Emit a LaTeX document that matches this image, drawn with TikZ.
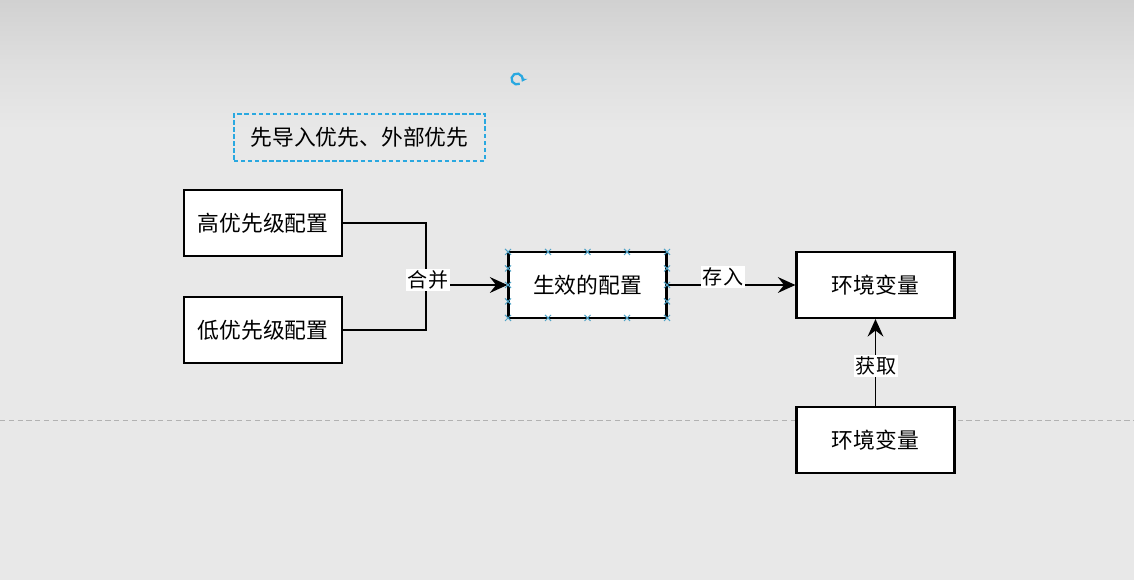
\documentclass[tikz,border=0pt]{standalone}
\usepackage{fontspec}
\newfontfamily\cjk{Noto Sans CJK SC}
\usetikzlibrary{arrows.meta}
\definecolor{bgtop}{HTML}{D1D1D1}
\definecolor{bgmain}{HTML}{E8E8E8}
\definecolor{selblue}{HTML}{29A8E0}
\definecolor{handle}{HTML}{4FA3C7}
\tikzset{
  box/.style={draw=black, line width=1.2pt, fill=white, minimum width=158*0.02cm, minimum height=66*0.02cm, inner sep=0pt, font=\cjk\fontsize{12.4}{14}\selectfont},
  conn/.style={draw=black, line width=1pt},
  arr/.style={conn, -{Stealth[length=10pt,width=9pt,inset=3.5pt]}},
  lbl/.style={fill=white, inner sep=1pt, font=\cjk\fontsize{11.4}{13}\selectfont},
  hmark/.style={draw=handle, line width=0.6pt},
}
\begin{document}
\begin{tikzpicture}[x=0.02cm,y=-0.02cm]
\useasboundingbox (0,0) rectangle (1134,580);
% background
\fill[bgmain] (0,0) rectangle (1134,580);
\shade[top color=bgtop, bottom color=bgmain, middle color=bgmain!60!bgtop] (0,0) rectangle (1134,130);
\draw[gray!60, line width=0.5pt, dash pattern=on 3pt off 2pt] (0,420) -- (1134,420);

% dashed note
\node[draw=selblue, line width=0.9pt, dash pattern=on 2.5pt off 1.5pt, minimum width=251*0.02cm, minimum height=47*0.02cm, inner sep=0pt, font=\cjk\fontsize{12.4}{14}\selectfont] (note) at (359.5,137.5) {先导入优先、外部优先};

% rotate icon
\draw[selblue, line width=1.3pt, -{Stealth[length=3pt,width=4pt]}] (517,79) ++(60:5.5) arc[start angle=60, end angle=390, radius=5.5];

% boxes
\node[box] (high) at (263,223) {高优先级配置};
\node[box] (low) at (263,330) {低优先级配置};
\node[box] (eff) at (587.5,285) {生效的配置};
\node[box] (env1) at (875.5,285) {环境变量};
\node[box] (env2) at (875.5,440) {环境变量};

% merge connectors
\coordinate (mj) at (426,285);
\draw[conn] (high.east) -| (mj);
\draw[conn] (low.east) -| (mj);
\draw[arr] (mj) -- (eff.west);
\node[lbl] (mlabel) at (428,280) {合并};

% store
\draw[arr] (eff.east) -- (env1.west);
\node[lbl] (slabel) at (723,277) {存入};

% fetch
\draw[arr] (env2.north) -- (env1.south);
\node[lbl] (flabel) at (876,366) {获取};

% selection handles
\foreach \px/\py in {508/252,548/252,587.5/252,627/252,667/252,
                     508/318,548/318,587.5/318,627/318,667/318,
                     508/268.5,508/285,508/301.5,667/268.5,667/285,667/301.5}{
  \draw[hmark] (\px-3,\py-3) -- (\px+3,\py+3) (\px-3,\py+3) -- (\px+3,\py-3);
}
\end{tikzpicture}
\end{document}
